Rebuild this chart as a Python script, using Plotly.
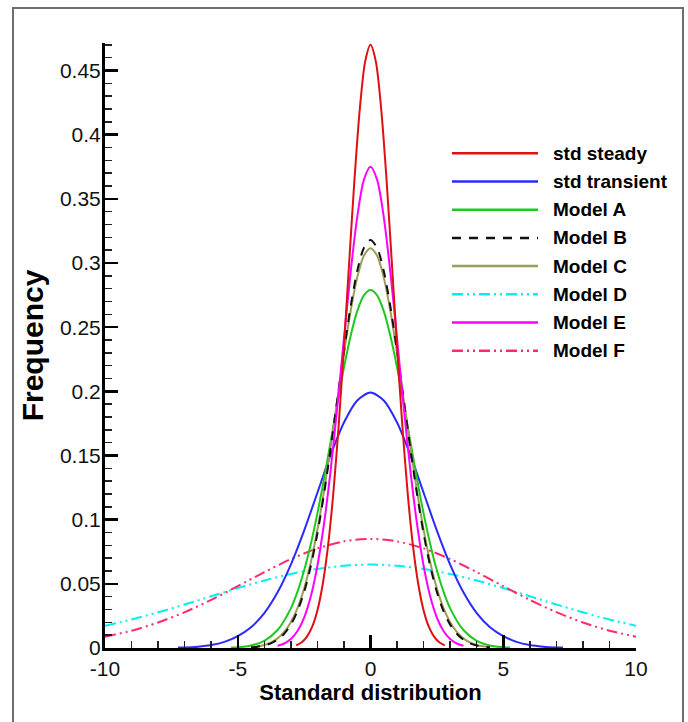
import plotly.graph_objects as go

# ---------------- data ----------------
names = ["std steady", "std transient", "Model A", "Model B", "Model C", "Model D", "Model E", "Model F"]
colors = ["#dd1111", "#2a2aff", "#1ec81e", "#111111", "#9c9c58", "#00f0f0", "#ff00ff", "#ff2a6e"]
dashes = ["solid", "solid", "solid", "9px,8px", "solid",
          "11px,4px,2px,4px,2px,4px", "solid", "11px,4px,2px,4px,2px,4px"]

x_steady = [-2.8, -2.6, -2.4, -2.2, -2.0, -1.8, -1.6, -1.4, -1.2, -1.0, -0.8, -0.6, -0.4, -0.2, 0.0,
            0.2, 0.4, 0.6, 0.8, 1.0, 1.2, 1.4, 1.6, 1.8, 2.0, 2.2, 2.4, 2.6, 2.8]
y_steady = [0.0020, 0.0043, 0.0086, 0.0164, 0.0293, 0.0497, 0.0796, 0.1207, 0.1731, 0.2349, 0.3015,
            0.3661, 0.4206, 0.4571, 0.4700,
            0.4571, 0.4206, 0.3661, 0.3015, 0.2349, 0.1731, 0.1207, 0.0796, 0.0497, 0.0293, 0.0164,
            0.0086, 0.0043, 0.0020]

x_transient = [-7.25, -7.0, -6.5, -6.0, -5.5, -5.0, -4.5, -4.0, -3.5, -3.0, -2.5, -2.0, -1.5, -1.0, -0.5, 0.0,
               0.5, 1.0, 1.5, 2.0, 2.5, 3.0, 3.5, 4.0, 4.5, 5.0, 5.5, 6.0, 6.5, 7.0, 7.25]
y_transient = [0.0003, 0.0004, 0.0010, 0.0023, 0.0048, 0.0093, 0.0162, 0.0272, 0.0434, 0.0650, 0.0915,
               0.1210, 0.1504, 0.1757, 0.1929, 0.1990,
               0.1929, 0.1757, 0.1504, 0.1210, 0.0915, 0.0650, 0.0434, 0.0272, 0.0162, 0.0093, 0.0048,
               0.0023, 0.0010, 0.0004, 0.0003]

x_a = [-5.25, -5.0, -4.5, -4.0, -3.5, -3.0, -2.75, -2.5, -2.25, -2.0, -1.75, -1.5, -1.25, -1.0, -0.75, -0.5,
       -0.25, 0.0, 0.25, 0.5, 0.75, 1.0, 1.25, 1.5, 1.75, 2.0, 2.25, 2.5, 2.75, 3.0, 3.5, 4.0, 4.5, 5.0, 5.25]
y_a = [0.0003, 0.0006, 0.0020, 0.0056, 0.0140, 0.0309, 0.0439, 0.0605, 0.0809, 0.1049, 0.1320, 0.1609,
       0.1904, 0.2185, 0.2431, 0.2625, 0.2748, 0.2790,
       0.2748, 0.2625, 0.2431, 0.2185, 0.1904, 0.1609, 0.1320, 0.1049, 0.0809, 0.0605, 0.0439, 0.0309,
       0.0140, 0.0056, 0.0020, 0.0006, 0.0003]

x_bc = [-4.5, -4.25, -4.0, -3.75, -3.5, -3.25, -3.0, -2.75, -2.5, -2.25, -2.0, -1.75, -1.5, -1.25, -1.0,
        -0.75, -0.5, -0.25, 0.0, 0.25, 0.5, 0.75, 1.0, 1.25, 1.5, 1.75, 2.0, 2.25, 2.5, 2.75, 3.0, 3.25,
        3.5, 3.75, 4.0, 4.25, 4.5]
y_b = [0.0005, 0.0010, 0.0020, 0.0036, 0.0065, 0.0111, 0.0182, 0.0288, 0.0437, 0.0637, 0.0892, 0.1202,
       0.1556, 0.1936, 0.2314, 0.2659, 0.2937, 0.3117, 0.3180,
       0.3117, 0.2937, 0.2659, 0.2314, 0.1936, 0.1556, 0.1202, 0.0892, 0.0637, 0.0437, 0.0288, 0.0182,
       0.0111, 0.0065, 0.0036, 0.0020, 0.0010, 0.0005]
y_c = [0.0007, 0.0013, 0.0024, 0.0043, 0.0075, 0.0125, 0.0201, 0.0311, 0.0464, 0.0666, 0.0921, 0.1225,
       0.1569, 0.1935, 0.2297, 0.2624, 0.2887, 0.3056, 0.3115,
       0.3056, 0.2887, 0.2624, 0.2297, 0.1935, 0.1569, 0.1225, 0.0921, 0.0666, 0.0464, 0.0311, 0.0201,
       0.0125, 0.0075, 0.0043, 0.0024, 0.0013, 0.0007]

x_wide = [-10, -9, -8, -7, -6, -5, -4, -3, -2, -1, 0, 1, 2, 3, 4, 5, 6, 7, 8, 9, 10]
y_d = [0.0173, 0.0222, 0.0278, 0.0339, 0.0403, 0.0467, 0.0526, 0.0577, 0.0616, 0.0641, 0.0650,
       0.0641, 0.0616, 0.0577, 0.0526, 0.0467, 0.0403, 0.0339, 0.0278, 0.0222, 0.0173]
y_f = [0.0088, 0.0135, 0.0199, 0.0279, 0.0375, 0.0482, 0.0591, 0.0693, 0.0776, 0.0831, 0.0850,
       0.0831, 0.0776, 0.0693, 0.0591, 0.0482, 0.0375, 0.0279, 0.0199, 0.0135, 0.0088]

x_e = [-3.5, -3.25, -3.0, -2.75, -2.5, -2.25, -2.0, -1.75, -1.5, -1.25, -1.0, -0.75, -0.5, -0.25, 0.0,
       0.25, 0.5, 0.75, 1.0, 1.25, 1.5, 1.75, 2.0, 2.25, 2.5, 2.75, 3.0, 3.25, 3.5]
y_e = [0.0017, 0.0035, 0.0070, 0.0133, 0.0237, 0.0401, 0.0641, 0.0970, 0.1388, 0.1881, 0.2411, 0.2925,
       0.3358, 0.3648, 0.3750,
       0.3648, 0.3358, 0.2925, 0.2411, 0.1881, 0.1388, 0.0970, 0.0641, 0.0401, 0.0237, 0.0133, 0.0070,
       0.0035, 0.0017]

series_x = [x_steady, x_transient, x_a, x_bc, x_bc, x_wide, x_e, x_wide]
series_y = [y_steady, y_transient, y_a, y_b, y_c, y_d, y_e, y_f]

x_ticks = [-10, -5, 0, 5, 10]
y_ticks = [0, 0.05, 0.1, 0.15, 0.2, 0.25, 0.3, 0.35, 0.4, 0.45]
y_tick_text = ["0", "0.05", "0.1", "0.15", "0.2", "0.25", "0.3", "0.35", "0.4", "0.45"]

# ---------------- figure ----------------
W, H = 688, 722
ML, MR, MT, MB = 105, 52, 43, 74
PW, PH = W - ML - MR, H - MT - MB

def px_to_paper_x(px):
    return (px - ML) / PW

def px_to_paper_y(py):
    return (H - MB - py) / PH

fig = go.Figure()
draw_order = [5, 7, 1, 2, 4, 3, 6, 0]
for i in draw_order:
    fig.add_trace(go.Scatter(
        x=series_x[i], y=series_y[i], mode="lines", name=names[i],
        line=dict(color=colors[i], width=2, dash=dashes[i], shape="spline", smoothing=0.8),
        showlegend=False,
    ))

tick_font = dict(family="Liberation Sans, Arial, sans-serif", size=21, color="#111111")
fig.update_xaxes(
    range=[-10, 10], tickvals=x_ticks, ticktext=[str(v) for v in x_ticks],
    showline=True, linecolor="black", linewidth=3, mirror=False,
    ticks="inside", ticklen=13, tickwidth=2.5, tickcolor="black",
    minor=dict(dtick=1, ticks="inside", ticklen=7, tickwidth=1.5, tickcolor="#222222", showgrid=False),
    showgrid=False, zeroline=False, tickfont=tick_font,
    title=dict(text="Standard distribution", standoff=3,
               font=dict(family="Liberation Sans, Arial, sans-serif", size=22, color="black", weight="bold")),
)
fig.update_yaxes(
    range=[0, 0.4714], tickvals=y_ticks, ticktext=y_tick_text,
    showline=True, linecolor="black", linewidth=3, mirror=False,
    ticks="inside", ticklen=13, tickwidth=2.5, tickcolor="black",
    minor=dict(dtick=0.01, ticks="inside", ticklen=7, tickwidth=1.5, tickcolor="#222222", showgrid=False),
    showgrid=False, zeroline=False, tickfont=tick_font, ticklabelstandoff=-3,
    title=dict(text="Frequency", standoff=8,
               font=dict(family="Liberation Sans, Arial, sans-serif", size=30, color="black", weight="bold")),
)

# custom legend (long line samples like the original)
leg_x0, leg_x1, leg_text = 452, 538, 551
row0, row_step = 153.3, 28.2
shapes = []
annotations = []
for k, nm in enumerate(names):
    yy = px_to_paper_y(row0 + k * row_step)
    shapes.append(dict(type="line", xref="paper", yref="paper",
                       x0=px_to_paper_x(leg_x0), x1=px_to_paper_x(leg_x1), y0=yy, y1=yy,
                       line=dict(color=colors[k], width=2.5, dash=dashes[k])))
    annotations.append(dict(xref="paper", yref="paper", x=px_to_paper_x(leg_text), y=yy,
                            text=nm, showarrow=False, xanchor="left", yanchor="middle",
                            font=dict(family="Liberation Sans, Arial, sans-serif",
                                      size=19, color="black", weight="bold")))

# outer frame of the picture
shapes.append(dict(type="rect", xref="paper", yref="paper",
                   x0=px_to_paper_x(13), x1=px_to_paper_x(683),
                   y0=px_to_paper_y(760), y1=px_to_paper_y(8),
                   line=dict(color="#6e6e6e", width=2), fillcolor="rgba(0,0,0,0)", layer="below"))

fig.update_layout(
    width=W, height=H,
    margin=dict(l=ML, r=MR, t=MT, b=MB, autoexpand=False),
    paper_bgcolor="white", plot_bgcolor="white",
    showlegend=False, shapes=shapes, annotations=annotations,
)

fig.write_html("out.html",
               config={"displayModeBar": False, "staticPlot": True},
               post_script="document.body.style.margin='0';document.body.style.overflow='hidden';")
